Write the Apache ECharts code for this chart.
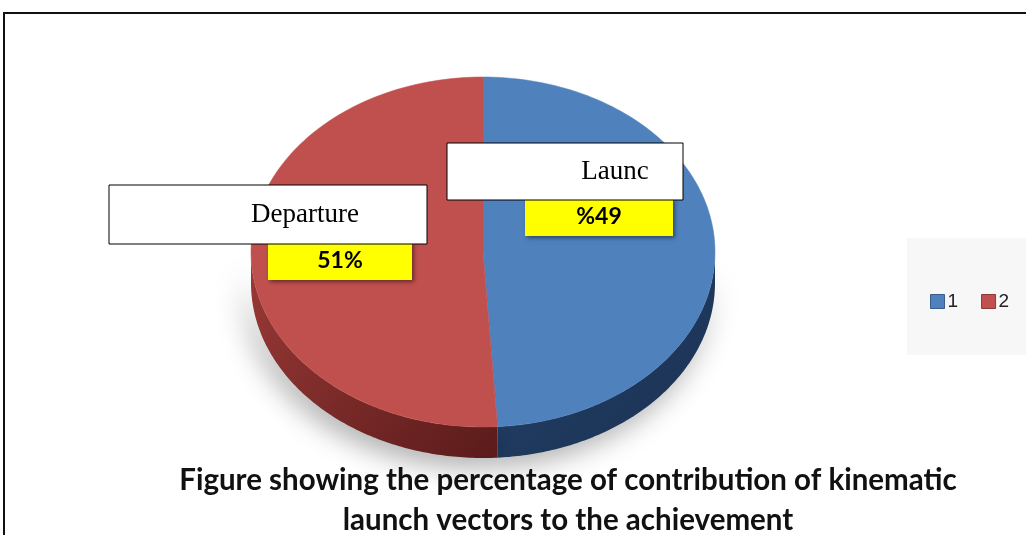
<!DOCTYPE html>
<html>
<head>
<meta charset="utf-8">
<script src="https://cdn.jsdelivr.net/npm/echarts@6/dist/echarts.min.js"></script>
<style>
html,body{margin:0;padding:0;background:#fff;}
#main{width:1026px;height:535px;}
</style>
</head>
<body>
<div id="main"></div>
<script>
// ---- data ----
const categories = ['1', '2'];
const values = [49, 51];
const sliceNames = ['Launc', 'Departure'];
const valueLabels = ['%49', '51%'];
const titleLines = ['Figure showing the percentage of contribution of kinematic', 'launch vectors to the achievement'];

// ---- styles ----
const topColors = ['#4F81BD', '#C0504D'];
const sideColors = [['#24426A', '#1A3152'], ['#9A3A37', '#5A1B1A']];
const legendBorders = ['#385D8A', '#8C3836'];

const chart = echarts.init(document.getElementById('main'), null, {renderer: 'canvas'});

const total = values.reduce((a, b) => a + b, 0);

function makeRender(k) {
  return function (params, api) {
    const cx = 483, cy = 252, rx = 232, ry = 175, depth = 31;
    let before = 0;
    for (let i = 0; i < k; i++) before += values[i];
    const a0 = -Math.PI / 2 + 2 * Math.PI * before / total;
    const a1 = a0 + 2 * Math.PI * api.value(0) / total;
    const steps = 120;
    const topPts = [[cx, cy]];
    for (let i = 0; i <= steps; i++) {
      const t = a0 + (a1 - a0) * i / steps;
      topPts.push([cx + rx * Math.cos(t), cy + ry * Math.sin(t)]);
    }
    const children = [];
    const lo = Math.max(a0, 0), hi = Math.min(a1, Math.PI);
    if (hi > lo) {
      const sidePts = [];
      for (let i = 0; i <= steps; i++) {
        const t = lo + (hi - lo) * i / steps;
        sidePts.push([cx + rx * Math.cos(t), cy + ry * Math.sin(t)]);
      }
      for (let i = steps; i >= 0; i--) {
        const t = lo + (hi - lo) * i / steps;
        sidePts.push([cx + rx * Math.cos(t), cy + depth + ry * Math.sin(t)]);
      }
      children.push({
        type: 'polygon',
        z2: 1,
        shape: {points: sidePts},
        style: {
          fill: new echarts.graphic.LinearGradient(0, 0, 1, 1, [
            {offset: 0, color: sideColors[k][0]},
            {offset: 1, color: sideColors[k][1]}
          ]),
          shadowBlur: 28,
          shadowOffsetX: -6,
          shadowOffsetY: 8,
          shadowColor: 'rgba(0,0,0,0.35)'
        }
      });
    }
    children.push({
      type: 'polygon',
      z2: 10,
      shape: {points: topPts},
      style: {fill: topColors[k], stroke: topColors[k], lineWidth: 0.5}
    });
    return {type: 'group', children: children};
  };
}

const series = categories.map((name, k) => ({
  type: 'custom',
  name: name,
  coordinateSystem: 'none',
  color: topColors[k],
  silent: true,
  animation: false,
  z: 2,
  data: [values[k]],
  renderItem: makeRender(k)
}));

function labelBox(x, y, w, h, text, font, opts) {
  return [
    {type: 'rect', z: 100, shape: {x: x, y: y, width: w, height: h},
      style: Object.assign({fill: '#fff', stroke: '#000', lineWidth: 1}, opts.rect || {})},
    {type: 'text', z: 101, x: x + opts.tx, y: y + h / 2,
      style: {text: text, font: font, fill: '#000', textAlign: 'center', textVerticalAlign: 'middle'}}
  ];
}

const yellowStyle = {fill: '#FFFF00', stroke: 'none', lineWidth: 0,
  shadowBlur: 4, shadowOffsetX: 2, shadowOffsetY: 2, shadowColor: 'rgba(0,0,0,0.45)'};

chart.setOption({
  backgroundColor: '#fff',
  animation: false,
  title: {
    text: titleLines.join('\n'),
    left: 563,
    textAlign: 'center',
    top: 455,
    textStyle: {fontFamily: 'Lato', fontWeight: 'bold', fontSize: 29.5, lineHeight: 40, color: '#111'}
  },
  legend: {
    data: categories.map((c, k) => ({name: c, itemStyle: {borderColor: legendBorders[k], borderWidth: 1}})),
    left: 925,
    top: 287,
    itemWidth: 14,
    itemHeight: 14,
    itemGap: 23,
    icon: 'rect',
    textStyle: {fontFamily: 'Liberation Sans', fontSize: 19, color: '#222', padding: [0, 0, 0, -2]}
  },
  graphic: [
    {type: 'rect', z: -10, shape: {x: 4, y: 13, width: 1040, height: 540},
      style: {fill: 'none', stroke: '#111', lineWidth: 2}},
    {type: 'rect', z: -9, shape: {x: 907, y: 238, width: 125, height: 117},
      style: {fill: '#F7F7F7', stroke: 'none'}}
  ]
    .concat(labelBox(268, 241, 144, 39, valueLabels[1], 'bold 23px Lato', {tx: 72, rect: yellowStyle}))
    .concat(labelBox(525, 198, 148, 38, valueLabels[0], 'bold 23px Lato', {tx: 74, rect: yellowStyle}))
    .concat(labelBox(109, 185, 318, 59, sliceNames[1], '27px "Liberation Serif"', {tx: 196}))
    .concat(labelBox(447, 143, 236, 57, sliceNames[0], '27px "Liberation Serif"', {tx: 168})),
  series: series
});
</script>
</body>
</html>
